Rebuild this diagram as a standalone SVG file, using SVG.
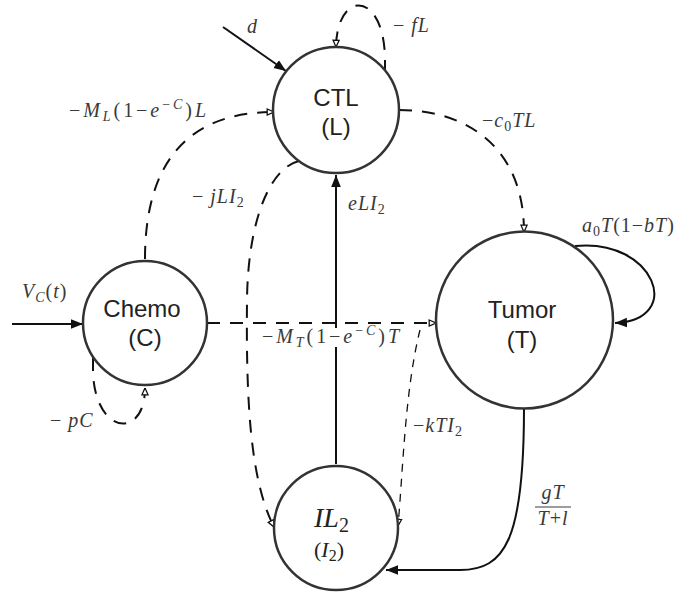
<svg xmlns="http://www.w3.org/2000/svg" width="676" height="600" viewBox="0 0 676 600">
<defs>
<style>
.node{fill:#fff;stroke:#333;stroke-width:2.5}
.lbl{font-family:"Liberation Sans",Arial,sans-serif;font-size:24px;fill:#222;text-anchor:middle}
.m{font-family:"Liberation Serif","Times New Roman",serif;font-size:20px;fill:#3a3a3a;letter-spacing:1px}
.i{font-style:italic}
.s{font-size:14px}
.c{fill:none;stroke:#111;stroke-width:2}
.d{stroke-dasharray:13 10}
.t{stroke-width:1.3;stroke-dasharray:8 7}
</style>
<marker id="open" viewBox="0 0 10 10" refX="9.5" refY="5" markerWidth="8" markerHeight="8" markerUnits="userSpaceOnUse" orient="auto"><path d="M1,1.2 L9.5,5 L1,8.8 z" fill="#fff" stroke="#111" stroke-width="1.6"/></marker>
<marker id="fill" viewBox="0 0 10 10" refX="10" refY="5" markerWidth="12" markerHeight="12" markerUnits="userSpaceOnUse" orient="auto"><path d="M0,1 L10,5 L0,9 z" fill="#111"/></marker>
</defs>
<rect width="676" height="600" fill="#fff"/>
<g id="connectors">
<path class="c" d="M223 27 L286 71" marker-end="url(#fill)"/>
<path class="c" d="M12 324 L83 324" marker-end="url(#fill)"/>
<path class="c d" d="M385 73 L385 57 C383 -10, 337 -10, 336 47" marker-end="url(#open)"/>
<path class="c d" d="M145 259 C145 160, 190 112, 274 112" marker-end="url(#open)"/>
<path class="c d" d="M399 110 C470 110, 524 150, 524 232" marker-end="url(#open)"/>
<path class="c d" d="M299 161 C270 168, 248 220, 247 300 C246 400, 250 480, 274 527" marker-end="url(#open)"/>
<path class="c d" d="M207 323 L436 323" marker-end="url(#open)"/>
<path class="c d" d="M93 358 L93 372 C95 435, 145 440, 145 388" marker-end="url(#open)"/>
<path class="c t" d="M420 330 C405 390, 403 470, 398 526" marker-end="url(#open)"/>
<path class="c" d="M336 464 L336 175" marker-end="url(#fill)"/>
<path class="c" d="M575 246 C655 238, 685 320, 615 323" marker-end="url(#fill)"/>
<path class="c" d="M524 408 C524 540, 505 570, 460 570 L386 570" marker-end="url(#fill)"/>
<rect x="262" y="328" width="138" height="19" fill="#fff"/>
</g>
<g id="ctl"><circle class="node" cx="336" cy="110" r="63"/><text class="lbl" x="336" y="106">CTL</text><text class="lbl" x="336" y="135">(L)</text></g>
<g id="chemo"><circle class="node" cx="145" cy="323" r="62"/><text class="lbl" x="142" y="317">Chemo</text><text class="lbl" x="145" y="346">(C)</text></g>
<g id="tumor"><circle class="node" cx="524.5" cy="320" r="88.5"/><text class="lbl" x="522" y="318">Tumor</text><text class="lbl" x="522" y="348">(T)</text></g>
<g id="il2"><circle class="node" cx="336" cy="528" r="62"/>
<text font-family="Liberation Serif,serif" font-size="28" fill="#222" x="314" y="527"><tspan font-style="italic">IL</tspan><tspan font-size="20" dy="5">2</tspan></text>
<text font-family="Liberation Serif,serif" font-size="22" fill="#222" x="314" y="557">(<tspan font-style="italic">I</tspan><tspan font-size="16" dy="4">2</tspan><tspan dy="-4">)</tspan></text>
</g>
<g id="labels">
<text class="m i" x="247" y="33" font-size="24">d</text>
<text class="m" x="393" y="32">− <tspan class="i">fL</tspan></text>
<text class="m" x="482" y="127">−<tspan class="i">c</tspan><tspan class="s" dy="4">0</tspan><tspan class="i" dy="-4">TL</tspan></text>
<text class="m" x="69" y="117" textLength="138" lengthAdjust="spacing">−<tspan class="i">M</tspan><tspan class="s i" dy="4">L</tspan><tspan dy="-4">(1−</tspan><tspan class="i">e</tspan><tspan class="s" dy="-8">−</tspan><tspan class="s i">C</tspan><tspan dy="8">)</tspan><tspan class="i">L</tspan></text>
<text class="m" x="192" y="203">− <tspan class="i">jLI</tspan><tspan class="s" dy="4">2</tspan></text>
<text class="m" x="348" y="210"><tspan class="i">eLI</tspan><tspan class="s" dy="4">2</tspan></text>
<text class="m" x="582" y="232"><tspan class="i">a</tspan><tspan class="s" dy="4">0</tspan><tspan class="i" dy="-4">T</tspan>(1−<tspan class="i">bT</tspan>)</text>
<text class="m" x="22" y="298"><tspan class="i">V</tspan><tspan class="s i" dy="4">C</tspan><tspan dy="-4">(</tspan><tspan class="i">t</tspan>)</text>
<text class="m" x="262" y="343" textLength="138" lengthAdjust="spacing">−<tspan class="i">M</tspan><tspan class="s i" dy="4">T</tspan><tspan dy="-4">(1−</tspan><tspan class="i">e</tspan><tspan class="s" dy="-8">−</tspan><tspan class="s i">C</tspan><tspan dy="8">)</tspan><tspan class="i">T</tspan></text>
<text class="m" x="413" y="432">−<tspan class="i">kTI</tspan><tspan class="s" dy="4">2</tspan></text>
<text class="m" x="50" y="427">− <tspan class="i">pC</tspan></text>
<text class="m i" x="553" y="499" font-size="17" text-anchor="middle">gT</text>
<line x1="535" y1="507" x2="571" y2="507" stroke="#3a3a3a" stroke-width="1"/>
<text class="m" x="553" y="525" font-size="17" text-anchor="middle"><tspan class="i">T</tspan>+<tspan class="i">l</tspan></text>
</g>
</svg>
